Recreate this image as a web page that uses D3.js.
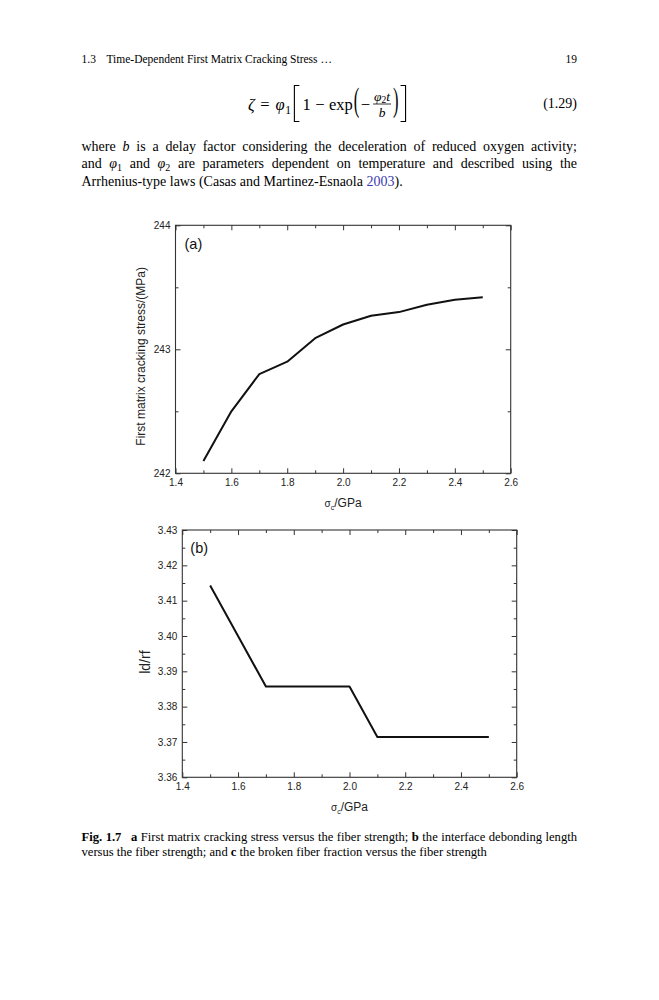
<!DOCTYPE html>
<html><head><meta charset="utf-8">
<script src="https://cdn.jsdelivr.net/npm/d3@7"></script>
<style>body{margin:0;background:#fff}</style>
</head><body>
<svg id="page" width="659" height="1000"></svg>
<script>
// ---- data ----
const fiberStrength = [1.5, 1.6, 1.7, 1.8, 1.9, 2.0, 2.1, 2.2, 2.3, 2.4, 2.5];
const matrixCrackingStress = [242.10, 242.50, 242.80, 242.90, 243.09, 243.20, 243.27, 243.30, 243.36, 243.40, 243.42];
const debondLengthRatio = [3.4143, 3.4000, 3.3857, 3.3857, 3.3857, 3.3857, 3.3714, 3.3714, 3.3714, 3.3714, 3.3714];
const xTickValues = [1.4, 1.6, 1.8, 2.0, 2.2, 2.4, 2.6];
const xMinorTicks = [1.5, 1.7, 1.9, 2.1, 2.3, 2.5];
const yTicksA = [242, 243, 244];
const yMinorA = [242.5, 243.5];
const yTicksB = [3.36, 3.37, 3.38, 3.39, 3.40, 3.41, 3.42, 3.43];
const yMinorB = [3.365, 3.375, 3.385, 3.395, 3.405, 3.415, 3.425];

const svg = d3.select("#page");
const SERIF = "'Liberation Serif','Times New Roman',serif";
const SANS = "'Liberation Sans',Arial,sans-serif";

// ---- page header ----
svg.append("text").attr("x", 81.5).attr("y", 63).attr("font-family", SERIF).attr("font-size", 11.5).text("1.3");
svg.append("text").attr("x", 106.5).attr("y", 63).attr("font-family", SERIF).attr("font-size", 11.5).text("Time-Dependent First Matrix Cracking Stress …");
svg.append("text").attr("x", 577).attr("y", 63).attr("text-anchor", "end").attr("font-family", SERIF).attr("font-size", 11.5).text("19");

// ---- equation (flowed left to right) ----
const eq = svg.append("g").attr("font-family", SERIF).attr("font-size", 16.5);
const eqY = 110;
let cx = 248;
function put(str, gap, opts = {}) {
  const t = eq.append("text").attr("x", cx).attr("y", eqY + (opts.dy || 0)).text(str);
  if (opts.italic) t.attr("font-style", "italic");
  if (opts.size) t.attr("font-size", opts.size);
  const w = t.node().getComputedTextLength();
  cx += w + gap;
}
function bigParen(str, gap) {
  const t = eq.append("text").attr("transform", `translate(${cx},111.4) scale(1,2.0)`).text(str);
  cx += t.node().getComputedTextLength() + gap;
}
function bracket(open, gap) {
  const w = 5;
  const d = open ? `M${cx + w},85.5H${cx}V121.5H${cx + w}` : `M${cx},85.5H${cx + w}V121.5H${cx}`;
  eq.append("path").attr("d", d).attr("fill", "none").attr("stroke", "#000").attr("stroke-width", 1.1);
  cx += w + gap;
}
put("ζ", 5.5, { italic: true });
put("=", 6);
put("φ", 0.5, { italic: true });
put("1", 3.5, { size: 11.5, dy: 3.5 });
bracket(true, 3);
put("1", 4.5);
put("−", 4.5);
put("exp", 1);
bigParen("(", 1.5);
put("−", 3);
{
  const fr = eq.append("text").attr("y", 100.5).attr("font-size", 13.5);
  fr.append("tspan").attr("font-style", "italic").text("φ");
  fr.append("tspan").attr("font-size", 9.5).attr("dy", 2.5).text("2");
  fr.append("tspan").attr("font-style", "italic").attr("dy", -2.5).text("t");
  const w = fr.node().getComputedTextLength();
  const fw = w + 2;
  fr.attr("x", cx + 1);
  eq.append("line").attr("x1", cx).attr("x2", cx + fw).attr("y1", 104).attr("y2", 104).attr("stroke", "#000").attr("stroke-width", 0.8);
  eq.append("text").attr("x", cx + fw / 2).attr("y", 116.5).attr("text-anchor", "middle").attr("font-size", 13.5).attr("font-style", "italic").text("b");
  cx += fw + 2;
}
bigParen(")", 2);
bracket(false, 0);
svg.append("text").attr("x", 577).attr("y", 108).attr("text-anchor", "end").attr("font-family", SERIF).attr("font-size", 14).text("(1.29)");

// ---- paragraph ----
function justify(sel, width) {
  const natural = sel.node().getComputedTextLength();
  const spaces = (sel.text().match(/ /g) || []).length;
  sel.attr("word-spacing", (width - natural) / spaces);
}
const paraW = 577 - 81.5;
const p1 = svg.append("text").attr("x", 81.5).attr("y", 150.5).attr("font-family", SERIF).attr("font-size", 14);
p1.append("tspan").text("where ");
p1.append("tspan").attr("font-style", "italic").text("b");
p1.append("tspan").text(" is a delay factor considering the deceleration of reduced oxygen activity;");
justify(p1, paraW);
const p2 = svg.append("text").attr("x", 81.5).attr("y", 168).attr("font-family", SERIF).attr("font-size", 14);
p2.append("tspan").text("and ");
p2.append("tspan").attr("font-style", "italic").text("φ");
p2.append("tspan").attr("font-size", 10).attr("dy", 3).text("1");
p2.append("tspan").attr("dy", -3).text(" and ");
p2.append("tspan").attr("font-style", "italic").text("φ");
p2.append("tspan").attr("font-size", 10).attr("dy", 3).text("2");
p2.append("tspan").attr("dy", -3).text(" are parameters dependent on temperature and described using the");
justify(p2, paraW);
const p3 = svg.append("text").attr("x", 81.5).attr("y", 185.5).attr("font-family", SERIF).attr("font-size", 14);
p3.append("tspan").text("Arrhenius-type laws (Casas and Martinez-Esnaola ");
p3.append("tspan").attr("fill", "#3b3bb0").text("2003");
p3.append("tspan").text(").");

// ---- panels ----
function drawPanel(cfg) {
  const g = svg.append("g");
  const x = d3.scaleLinear().domain([1.4, 2.6]).range([cfg.l, cfg.r]);
  const y = d3.scaleLinear().domain(cfg.yDomain).range([cfg.b, cfg.t]);
  const style = sel => {
    sel.select(".domain").remove();
    sel.selectAll("line").attr("stroke", "#333").attr("stroke-width", 1);
    sel.selectAll("text").attr("font-family", SANS).attr("font-size", 10).attr("fill", "#222");
    sel.attr("font-family", null).attr("font-size", null);
  };
  g.append("g").attr("transform", `translate(0,${cfg.b})`)
    .call(d3.axisBottom(x).tickValues(xTickValues).tickSize(-5).tickPadding(6).tickFormat(d3.format(".1f"))).call(style);
  g.append("g").attr("transform", `translate(0,${cfg.b})`)
    .call(d3.axisBottom(x).tickValues(xMinorTicks).tickSize(-3).tickFormat("")).call(style);
  g.append("g").attr("transform", `translate(0,${cfg.t})`)
    .call(d3.axisTop(x).tickValues(xTickValues).tickSize(-5).tickFormat("")).call(style);
  g.append("g").attr("transform", `translate(0,${cfg.t})`)
    .call(d3.axisTop(x).tickValues(xMinorTicks).tickSize(-3).tickFormat("")).call(style);
  g.append("g").attr("transform", `translate(${cfg.l},0)`)
    .call(d3.axisLeft(y).tickValues(cfg.yTicks).tickSize(-5).tickPadding(5).tickFormat(cfg.yFmt)).call(style);
  g.append("g").attr("transform", `translate(${cfg.l},0)`)
    .call(d3.axisLeft(y).tickValues(cfg.yMinor).tickSize(-3).tickFormat("")).call(style);
  g.append("g").attr("transform", `translate(${cfg.r},0)`)
    .call(d3.axisRight(y).tickValues(cfg.yTicks).tickSize(-5).tickFormat("")).call(style);
  g.append("g").attr("transform", `translate(${cfg.r},0)`)
    .call(d3.axisRight(y).tickValues(cfg.yMinor).tickSize(-3).tickFormat("")).call(style);
  g.append("rect").attr("x", cfg.l).attr("y", cfg.t).attr("width", cfg.r - cfg.l).attr("height", cfg.b - cfg.t)
    .attr("fill", "none").attr("stroke", "#333").attr("stroke-width", 1.1);
  const line = d3.line().x((d, i) => x(fiberStrength[i])).y(d => y(d));
  g.append("path").datum(cfg.values).attr("d", line).attr("fill", "none")
    .attr("stroke", "#111").attr("stroke-width", 2).attr("stroke-linejoin", "round");
  g.append("text").attr("x", cfg.l + cfg.letterDx).attr("y", cfg.t + cfg.letterDy)
    .attr("font-family", SANS).attr("font-size", 14.5).attr("fill", "#111").text(cfg.letter);
  g.append("text").attr("transform", `translate(${cfg.yTitleX},${(cfg.t + cfg.b) / 2 + cfg.yTitleDy}) rotate(-90)`)
    .attr("text-anchor", "middle").attr("font-family", SANS).attr("font-size", cfg.yTitleSize).attr("fill", "#222").text(cfg.yTitle);
  const xt = g.append("text").attr("x", (cfg.l + cfg.r) / 2).attr("y", cfg.xTitleY)
    .attr("text-anchor", "middle").attr("font-family", SANS).attr("font-size", 12).attr("fill", "#222");
  xt.append("tspan").attr("font-size", 10).text("σ");
  xt.append("tspan").attr("font-size", 7).attr("dy", 3).text("c");
  xt.append("tspan").attr("dy", -3).text("/GPa");
}

drawPanel({
  l: 175.5, r: 510.7, t: 225.3, b: 473.3,
  yDomain: [242, 244], yTicks: yTicksA, yMinor: yMinorA, yFmt: d3.format("d"),
  values: matrixCrackingStress, letter: "(a)", letterDx: 9, letterDy: 24,
  yTitle: "First matrix cracking stress/(MPa)", yTitleX: 145, yTitleDy: 7, yTitleSize: 12,
  xTitleY: 507
});
drawPanel({
  l: 182.3, r: 516.7, t: 530, b: 777.3,
  yDomain: [3.36, 3.43], yTicks: yTicksB, yMinor: yMinorB, yFmt: d3.format(".2f"),
  values: debondLengthRatio, letter: "(b)", letterDx: 8, letterDy: 23,
  yTitle: "ld/rf", yTitleX: 150, yTitleDy: 8.5, yTitleSize: 14,
  xTitleY: 811
});

// ---- caption ----
const c1 = svg.append("text").attr("x", 81.5).attr("y", 840.5).attr("font-family", SERIF).attr("font-size", 12.6);
c1.append("tspan").attr("font-weight", "bold").text("Fig. 1.7");
c1.append("tspan").attr("dx", 6).attr("font-weight", "bold").text(" a");
c1.append("tspan").text(" First matrix cracking stress versus the fiber strength; ");
c1.append("tspan").attr("font-weight", "bold").text("b");
c1.append("tspan").text(" the interface debonding length");
justify(c1, paraW - 6);
const c2 = svg.append("text").attr("x", 81.5).attr("y", 855.5).attr("font-family", SERIF).attr("font-size", 12.6);
c2.append("tspan").text("versus the fiber strength; and ");
c2.append("tspan").attr("font-weight", "bold").text("c");
c2.append("tspan").text(" the broken fiber fraction versus the fiber strength");
</script>
</body></html>
